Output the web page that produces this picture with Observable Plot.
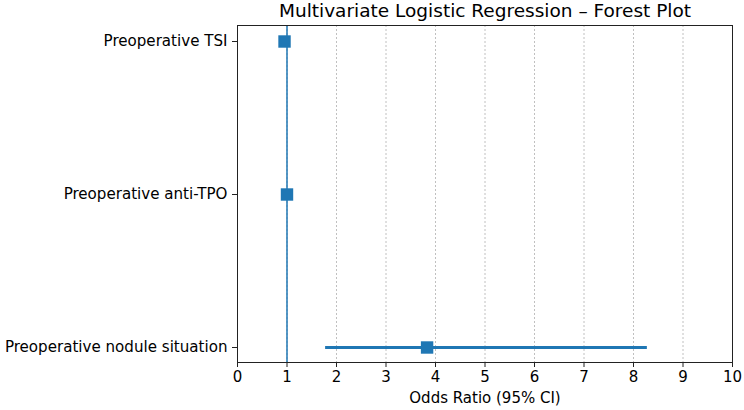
<!DOCTYPE html>
<html>
<head>
<meta charset="utf-8">
<script src="https://cdn.jsdelivr.net/npm/d3@7"></script>
<script src="https://cdn.jsdelivr.net/npm/@observablehq/plot@0.6"></script>
<style>
  body { margin: 0; background: #fff; }
  svg { font-family: "DejaVu Sans", sans-serif; }
</style>
</head>
<body>
<div id="chart"></div>
<script>
const categories = ["Preoperative TSI", "Preoperative anti-TPO", "Preoperative nodule situation"];
const oddsRatio = [0.95, 1.00, 3.83];
const ciLow = [0.90, 0.99, 1.78];
const ciHigh = [1.00, 1.01, 8.28];
const xTicks = [0, 1, 2, 3, 4, 5, 6, 7, 8, 9, 10];
const title = "Multivariate Logistic Regression – Forest Plot";
const xLabel = "Odds Ratio (95% CI)";

const data = categories.map((c, i) => ({name: c, or: oddsRatio[i], lo: ciLow[i], hi: ciHigh[i]}));
const blue = "#1f77b4";

const chart = Plot.plot({
  width: 744,
  height: 410,
  marginLeft: 237,
  marginRight: 12,
  marginTop: 25,
  marginBottom: 48,
  style: {fontFamily: "DejaVu Sans, sans-serif", fontSize: "15px", color: "#000", background: "#fff"},
  x: {domain: [0, 10]},
  y: {type: "point", domain: categories, padding: 0.098},
  marks: [
    Plot.gridX(xTicks, {stroke: "#b0b0b0", strokeOpacity: 1, strokeDasharray: "2,2", strokeWidth: 0.8}),
    Plot.ruleX([1], {stroke: blue, strokeWidth: 1.5}),
    Plot.ruleY(data, {y: "name", x1: "lo", x2: "hi", stroke: blue, strokeWidth: 3}),
    Plot.dot(data, {y: "name", x: "or", symbol: "square", r: 7, fill: blue, stroke: "none"}),
    Plot.frame({stroke: "#222", strokeWidth: 1}),
    Plot.axisX(xTicks, {tickSize: 5, tickPadding: 4, fontSize: 15, label: xLabel, labelAnchor: "center", labelArrow: "none", labelOffset: 40, stroke: "#222"}),
    Plot.axisY({tickSize: 5, tickPadding: 5, fontSize: 15.1, label: null, stroke: "#222"}),
    Plot.text([title], {frameAnchor: "top", lineAnchor: "middle", dy: -14, fontSize: 18.5, fill: "#000"})
  ]
});
document.getElementById("chart").appendChild(chart);
</script>
</body>
</html>
